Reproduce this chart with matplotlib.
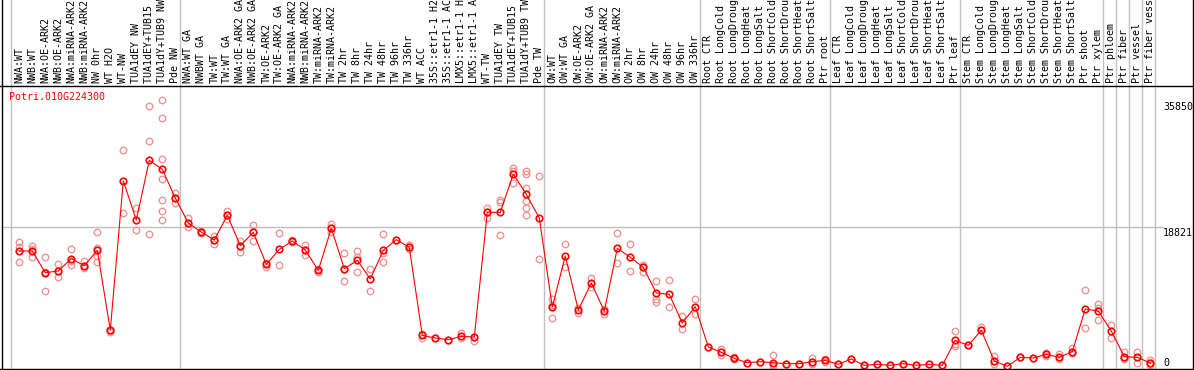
import matplotlib
matplotlib.use("Agg")
import matplotlib.pyplot as plt
from matplotlib.lines import Line2D

# ---------------- data ----------------
gene = "Potri.010G224300"

labels = [
    "NWA:WT", "NWB:WT", "NWA:OE-ARK2", "NWB:OE-ARK2", "NWA:miRNA-ARK2", "NWB:miRNA-ARK2",
    "NW 0hr", "WT H2O", "WT-NW", "TUA1dEY NW", "TUA1dEY+TUB15 NW", "TUA1dY+TUB9 NW", "Pde NW",
    "NWA:WT GA", "NWBWT GA", "TW:WT", "TW:WT GA", "NWA:OE-ARK2 GA", "NWB:OE-ARK2 GA",
    "TW:OE-ARK2", "TW:OE-ARK2 GA", "NWA:miRNA-ARK2", "NWB:miRNA-ARK2", "TW:miRNA-ARK2",
    "TW:miRNA-ARK2", "TW 2hr", "TW 8hr", "TW 24hr", "TW 48hr", "TW 96hr", "TW 336hr", "WT ACC",
    "35S::etr1-1 H2O", "35S::etr1-1 ACC", "LMX5::etr1-1 H2O", "LMX5::etr1-1 ACC", "WT-TW",
    "TUA1dEY TW", "TUA1dEY+TUB15 TW", "TUA1dY+TUB9 TW", "Pde TW",
    "OW:WT", "OW:WT GA", "OW:OE-ARK2", "OW:OE-ARK2 GA", "OW:miRNA-ARK2", "OW:miRNA-ARK2",
    "OW 2hr", "OW 8hr", "OW 24hr", "OW 48hr", "OW 96hr", "OW 336hr",
    "Root CTR", "Root LongCold", "Root LongDrought", "Root LongHeat", "Root LongSalt",
    "Root ShortCold", "Root ShortDrought", "Root ShortHeat", "Root ShortSalt", "Ptr root",
    "Leaf CTR", "Leaf LongCold", "Leaf LongDrought", "Leaf LongHeat", "Leaf LongSalt",
    "Leaf ShortCold", "Leaf ShortDrought", "Leaf ShortHeat", "Leaf ShortSalt", "Ptr leaf",
    "Stem CTR", "Stem LongCold", "Stem LongDrought", "Stem LongHeat", "Stem LongSalt",
    "Stem ShortCold", "Stem ShortDrought", "Stem ShortHeat", "Stem ShortSalt", "Ptr shoot",
    "Ptr xylem", "Ptr phloem", "Ptr fiber", "Ptr vessel", "Ptr fiber vessel",
]

group_sizes = [13, 28, 12, 10, 10, 11, 1, 1, 1, 1]

means = [
    15672, 15672, 12780, 13003, 14649, 13714, 15762, 5126, 25018, 19811, 27777, 26575, 22748,
    19410, 18209, 17141, 20434, 16384, 18164, 13893, 15895, 17007, 15806, 13092, 18698, 13314,
    14427, 11935, 15762, 17185, 16162, 4414, 4058, 3835, 4281, 4191, 20834, 20834, 25952, 23238,
    20078,
    8197, 15005, 7796, 11401, 7663, 16028, 14827, 13492, 10066, 9888, 6061, 8241,
    2856, 2144, 1343, 765, 898, 765, 631, 631, 898, 1077,
    542, 1254, 409, 542, 409, 631, 409, 542, 409, 3747,
    3079, 5081, 987, 275, 1477, 1388, 1878, 1477, 2234, 7930, 7663,
    4992, 1566, 1477, 720,
]

replicates = [
    [16830, 16251, 14248], [16295, 15895, 14827], [14827, 12913, 10332], [13937, 13003, 12157],
    [15984, 14382, 13803], [14382, 13714, 13358], [18164, 16028, 15049, 14159], [5126, 4859],
    [29111, 20745], [21368, 18431], [34985, 30313, 17897],
    [35850, 33383, 27954, 25240, 22436, 20968, 19766], [23460, 22748, 22036],
    [20122, 19410, 18832], [18300, 18120], [17719, 17141, 16607], [20968, 20434, 19900],
    [17052, 16384, 15539], [19099, 18164, 17052], [14070, 13581], [18031, 13759],
    [17100, 16900], [16473, 15806, 15094], [13314, 12824], [19232, 18698, 18253],
    [15361, 13314, 11623], [15628, 14827, 12824], [13225, 10288], [17897, 15361, 14159],
    [17185], [16429, 16162, 15895], [4547, 4013], [4058], [3835], [4770, 4102], [4191, 3702],
    [21368, 20834, 20122], [22481, 22258, 17764], [26753, 26352, 24795],
    [26397, 25907, 24127, 22303, 21368, 20434], [25640, 14560],
    [9220, 8463, 6772], [16562, 13492], [8018, 7351], [12068, 10822], [7885, 7217],
    [18031, 14026], [16562, 13047], [13848, 13581, 12913], [11623, 9220, 8908], [11756, 8152],
    [6950, 5215], [9309, 7217],
    [2856], [2545, 1788], [1566, 1210], [765], [898], [1744, 453, 231], [631], [631],
    [1343, 898, 587], [1299, 898],
    [542], [1254], [409], [542], [409], [631], [409], [542], [409], [4992, 3257, 3034],
    [3079], [5526, 5081], [1700, 987, 542], [275], [1477], [1388], [2100, 1700], [1922, 1210],
    [2678, 2011], [10421, 5348], [8552, 8018, 6416],
    [5749, 4013], [2144, 1343, 1210], [2144, 765], [1121, 720, 453],
]

ytick_values = [35850, 18821, 0]

# ---------------- layout ----------------
W, H = 1194, 370
fig = plt.figure(figsize=(W / 100, H / 100), dpi=100)
fig.patch.set_facecolor("white")

def fx(px):
    return px / W

def fy(py):
    return 1 - py / H

x_first, x_step = 19.3, 13.0
left_px, right_px = 1, 1193
top_px, bot_px = 85, 369
zero_px, per_px = 368.4, 133.5

xlim = ((left_px - x_first) / x_step, (right_px - x_first) / x_step)
ylim = (-(bot_px - zero_px) * per_px, (zero_px - top_px) * per_px)

ax = fig.add_axes([fx(left_px), fy(bot_px), fx(right_px - left_px), (bot_px - top_px) / H])
ax.set_xlim(*xlim)
ax.set_ylim(*ylim)
ax.axis("off")

lab = fig.add_axes([fx(left_px), fy(top_px), fx(right_px - left_px), top_px / H])
lab.set_xlim(*xlim)
lab.set_ylim(0, top_px)
lab.axis("off")

grid_c = "#c0c0c0"
bounds = [0]
for g in group_sizes:
    bounds.append(bounds[-1] + g)
for b in bounds:
    ax.axvline(b - 0.64, color=grid_c, lw=1.0, zorder=0)
    lab.axvline(b - 0.64, color=grid_c, lw=1.0, zorder=0)

ax.axhline(ytick_values[1], xmin=0, xmax=(1163 - left_px) / (right_px - left_px),
           color=grid_c, lw=1.0, zorder=0)

mono = "DejaVu Sans Mono"
for i, name in enumerate(labels):
    lab.text(i, 1.6, name, rotation=90, ha="center", va="bottom", fontsize=7.2,
             family=mono, color="black", clip_on=True)

# replicates
rx, ry = [], []
for i, reps in enumerate(replicates):
    for v in reps:
        rx.append(i)
        ry.append(v)
ax.plot(rx, ry, linestyle="none", marker="o", ms=4.7, mfc="none", mec="#ee9595",
        mew=1.0, zorder=2)

xs = list(range(len(means)))
ax.plot(xs, means, color="red", lw=0.8, zorder=3)
ax.plot(xs, means, linestyle="none", marker="o", ms=4.7, mfc="none", mec="red",
        mew=1.2, zorder=4)

# frame lines
for (x0, y0, x1, y1) in [(0, 85.5, W, 85.5), (1.5, 0, 1.5, H), (W - 1.5, 0, W - 1.5, H),
                         (0, 368.5, W, 368.5)]:
    fig.add_artist(Line2D([fx(x0), fx(x1)], [fy(y0), fy(y1)], color="black", lw=1.0))

# texts
fig.text(fx(9), fy(92.5), gene, color="red", fontsize=7.2, family=mono, va="top", ha="left")
fig.text(fx(1163), fy(102.5), f"{ytick_values[0]}", fontsize=7.2, family=mono, va="top", ha="left")
fig.text(fx(1163), fy(227.5), f"{ytick_values[1]}", fontsize=7.2, family=mono, va="top", ha="left")
fig.text(fx(1163), fy(358), f"{ytick_values[2]}", fontsize=7.2, family=mono, va="top", ha="left")

fig.savefig("out.png", dpi=100, facecolor="white")
